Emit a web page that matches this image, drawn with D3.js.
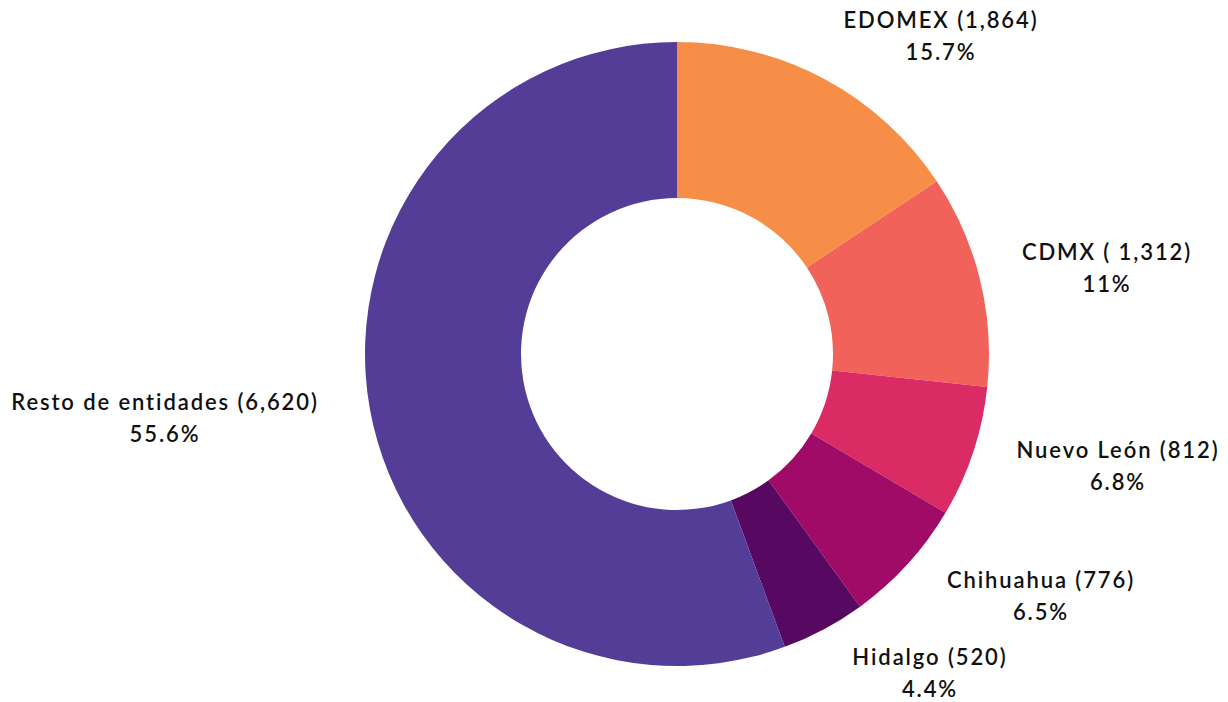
<!DOCTYPE html>
<html>
<head>
<meta charset="utf-8">
<script src="https://cdn.jsdelivr.net/npm/d3@7"></script>
<style>
  body { margin: 0; background: #fff; }
  .lbl { font-family: 'Lato', sans-serif; font-size: 22px; font-weight: 600; fill: #111; letter-spacing: 1.9px; }
</style>
</head>
<body>
<div class="canvas"></div>
<script>
// data
const entidades = ['EDOMEX', 'CDMX', 'Nuevo León', 'Chihuahua', 'Hidalgo', 'Resto de entidades'];
const casos = [1864, 1312, 812, 776, 520, 6620];
const etiquetas = ['EDOMEX (1,864)', 'CDMX ( 1,312)', 'Nuevo León (812)', 'Chihuahua (776)', 'Hidalgo (520)', 'Resto de entidades (6,620)'];
const porcentajes = ['15.7%', '11%', '6.8%', '6.5%', '4.4%', '55.6%'];
const colores = ['#f68e48', '#f0625a', '#da2b64', '#a00b68', '#570860', '#543d97'];

// label placement: centre x, first baseline y
const labelPos = [[941, 28], [1107, 260], [1118, 458], [1041, 588], [930, 665], [165, 410]];

const width = 1228;
const height = 702;
const cx = 677, cy = 354;
const outerR = 312, innerR = 156;

const svg = d3.select('.canvas').append('svg')
  .attr('width', width)
  .attr('height', height);

const graph = svg.append('g')
  .attr('transform', `translate(${cx},${cy})`);

const pie = d3.pie().sort(null).value(d => d.value);
const arc = d3.arc().innerRadius(innerR).outerRadius(outerR);

const data = entidades.map((e, i) => ({ name: e, value: casos[i], i }));

graph.selectAll('path')
  .data(pie(data))
  .enter()
  .append('path')
    .attr('d', arc)
    .attr('fill', d => colores[d.data.i]);

// labels
const labels = svg.append('g');
data.forEach((d, i) => {
  const t = labels.append('text')
    .attr('class', 'lbl')
    .attr('text-anchor', 'middle')
    .attr('y', labelPos[i][1]);
  t.append('tspan').attr('x', labelPos[i][0]).text(etiquetas[i]);
  t.append('tspan').attr('x', labelPos[i][0]).attr('dy', 32).text(porcentajes[i]);
});
</script>
</body>
</html>
